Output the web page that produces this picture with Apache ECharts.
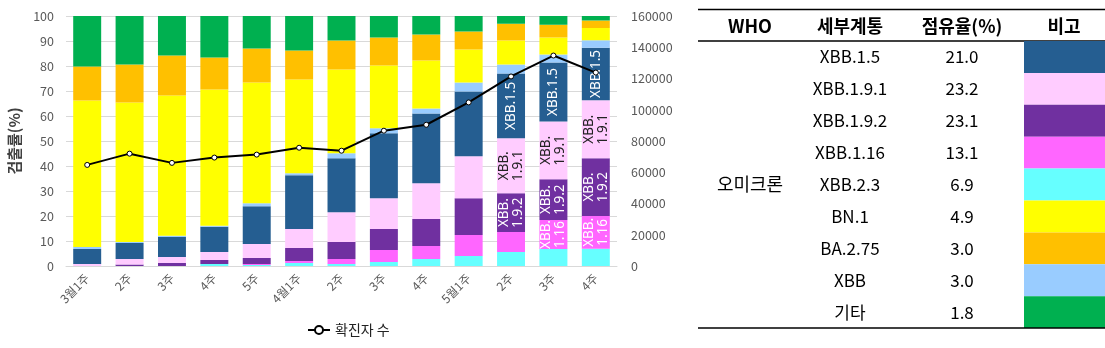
<!DOCTYPE html>
<html><head><meta charset="utf-8">
<script src="https://cdn.jsdelivr.net/npm/echarts@6/dist/echarts.min.js"></script>
<style>html,body{margin:0;padding:0;background:#fff}#c{width:1105px;height:348px}</style>
</head><body><div id="c"></div>
<script>
const categories = ['3월1주','2주','3주','4주','5주','4월1주','2주','3주','4주','5월1주','2주','3주','4주'];
// stacked from bottom to top
const xbb23   = [0, 0, 0, 0.8, 0.4, 1.2, 0.8, 1.6, 2.8, 4.0, 5.6, 6.8, 6.9];
const xbb116  = [0, 0, 0, 0, 0.4, 0.8, 2.0, 4.8, 5.2, 8.4, 8.0, 11.6, 13.1];
const xbb192  = [0, 0.6, 1.2, 1.6, 2.4, 5.2, 6.8, 8.4, 10.8, 14.7, 15.5, 16.3, 23.1];
const xbb191  = [0.8, 2.2, 2.4, 3.2, 5.6, 7.6, 11.9, 12.3, 14.3, 16.8, 22.0, 23.1, 23.2];
const xbb15   = [6.0, 6.4, 8.0, 10.1, 15.1, 21.5, 21.6, 26.0, 27.9, 25.9, 25.9, 23.6, 21.0];
const xbb     = [0.8, 0.4, 0.5, 0.4, 1.2, 0.8, 2.0, 2.0, 2.0, 3.6, 3.6, 3.2, 3.0];
const bn1     = [58.6, 55.8, 56.1, 54.5, 48.3, 37.5, 33.5, 25.1, 19.2, 13.2, 9.6, 6.8, 4.9];
const ba275   = [13.6, 15.2, 16.0, 12.8, 13.6, 11.6, 11.6, 11.2, 10.4, 7.2, 6.7, 5.1, 3.0];
const others  = [20.2, 19.4, 15.8, 16.6, 13.0, 13.8, 9.8, 8.6, 7.4, 6.2, 3.1, 3.5, 1.8];
const cases   = [64700, 71900, 66000, 69400, 71300, 75700, 73800, 86600, 90400, 104700, 121300, 134700, 123800];
const leftTicks = [0,10,20,30,40,50,60,70,80,90,100];
const rightTicks = [0,20000,40000,60000,80000,100000,120000,140000,160000];

// table
const tableHeader = ['WHO','세부계통','점유율(%)','비고'];
const whoName = '오미크론';
const tableNames = ['XBB.1.5','XBB.1.9.1','XBB.1.9.2','XBB.1.16','XBB.2.3','BN.1','BA.2.75','XBB','기타'];
const tableShares = ['21.0','23.2','23.1','13.1','6.9','4.9','3.0','3.0','1.8'];

// in-bar labels by series name and category index
const barLabels = {
  'XBB.1.5':   {10:'XBB.1.5', 11:'XBB.1.5', 12:'XBB.1.5'},
  'XBB.1.9.1': {10:'XBB.\n1.9.1', 11:'XBB.\n1.9.1', 12:'XBB.\n1.9.1'},
  'XBB.1.9.2': {10:'XBB.\n1.9.2', 11:'XBB.\n1.9.2', 12:'XBB.\n1.9.2'},
  'XBB.1.16':  {11:'XBB.\n1.16', 12:'XBB.\n1.16'}
};

const colorMap = {
  'XBB.1.5':'#255E91','XBB.1.9.1':'#FFCCFF','XBB.1.9.2':'#7030A0','XBB.1.16':'#FF66FF',
  'XBB.2.3':'#66FFFF','BN.1':'#FFFF00','BA.2.75':'#FFC000','XBB':'#99CCFF','기타':'#00B050'
};
const labelColor = {'XBB.1.5':'#fff','XBB.1.9.1':'#222','XBB.1.9.2':'#fff','XBB.1.16':'#fff'};

const stackOrder = [['XBB.2.3',xbb23],['XBB.1.16',xbb116],['XBB.1.9.2',xbb192],['XBB.1.9.1',xbb191],
  ['XBB.1.5',xbb15],['XBB',xbb],['BN.1',bn1],['BA.2.75',ba275],['기타',others]];

const barSeries = stackOrder.map(([name, arr]) => ({
  name, type:'bar', stack:'v', barWidth:'66%', yAxisIndex:0,
  itemStyle:{color:colorMap[name]},
  emphasis:{disabled:true},
  data: arr.map((v,i) => {
    const t = barLabels[name] && barLabels[name][i];
    if (!t) return v;
    return {value:v, label:{show:true, position:'inside', rotate:90, formatter:t,
      color:labelColor[name], fontSize:13.5, lineHeight:14, fontFamily:'Noto Sans, sans-serif'}};
  })
}));

const lineSeries = {
  name:'확진자 수', type:'line', yAxisIndex:1, data:cases,
  symbol:'circle', symbolSize:5,
  lineStyle:{color:'#000', width:2},
  itemStyle:{color:'#fff', borderColor:'#000', borderWidth:1},
  z:10
};

// table graphics
const tX0 = 698, tX1 = 1105, tTop = 9.5, tHead = 41, rowH = 31.9;
const colX = [750, 850, 962, 1064];
const bodyFont = '17px "Noto Sans CJK KR", sans-serif';
const g = [];
g.push({type:'line', shape:{x1:tX0,y1:tTop,x2:tX1,y2:tTop}, style:{stroke:'#000',lineWidth:1.5}});
g.push({type:'line', shape:{x1:tX0,y1:tHead,x2:tX1,y2:tHead}, style:{stroke:'#000',lineWidth:1.5}});
tableHeader.forEach((h,i)=>g.push({type:'text', x:colX[i], y:(tTop+tHead)/2+1,
  style:{text:h, fill:'#000', font:'bold 18px "Noto Sans CJK KR", sans-serif', align:'center', verticalAlign:'middle'}}));
tableNames.forEach((n,i)=>{
  const yc = tHead + rowH*(i+0.5);
  g.push({type:'rect', shape:{x:1024, y:tHead+rowH*i, width:tX1-1024, height:rowH}, style:{fill:colorMap[n]}});
  g.push({type:'text', x:colX[1], y:yc, style:{text:n, fill:'#000', font:bodyFont, align:'center', verticalAlign:'middle'}});
  g.push({type:'text', x:colX[2], y:yc, style:{text:tableShares[i], fill:'#000', font:bodyFont, align:'center', verticalAlign:'middle'}});
});
g.push({type:'text', x:colX[0], y:tHead+rowH*4.5, style:{text:whoName, fill:'#000', font:'18px "Noto Sans CJK KR", sans-serif', align:'center', verticalAlign:'middle'}});
g.push({type:'line', shape:{x1:tX0,y1:tHead+rowH*9,x2:tX1,y2:tHead+rowH*9}, style:{stroke:'#000',lineWidth:1.5}});

const chart = echarts.init(document.getElementById('c'));
chart.setOption({
  animation:false,
  textStyle:{fontFamily:'"Noto Sans CJK KR", "Noto Sans", sans-serif'},
  grid:{left:66, right:488, top:16, bottom:82},
  legend:{data:['확진자 수'], bottom:6, left:302, itemWidth:22, itemHeight:10, itemGap:4,
    textStyle:{fontSize:14, color:'#222'}},
  xAxis:{type:'category', data:categories,
    axisLine:{lineStyle:{color:'#d9d9d9'}}, axisTick:{show:false},
    axisLabel:{rotate:45, color:'#595959', fontSize:12, margin:10, interval:0}},
  yAxis:[
    {type:'value', min:leftTicks[0], max:leftTicks[leftTicks.length-1], interval:10,
     name:'검출률(%)', nameLocation:'middle', nameGap:44, nameRotate:90,
     nameTextStyle:{fontSize:15, fontWeight:'bold', color:'#404040'},
     axisLabel:{color:'#595959', fontSize:12.5, margin:12}, splitLine:{lineStyle:{color:'#d9d9d9'}}},
    {type:'value', min:rightTicks[0], max:rightTicks[rightTicks.length-1], interval:20000,
     axisLabel:{color:'#595959', fontSize:12.5, margin:14, formatter:v=>String(v)}, splitLine:{show:false}}
  ],
  series:[...barSeries, lineSeries],
  graphic:g
});
</script></body></html>
